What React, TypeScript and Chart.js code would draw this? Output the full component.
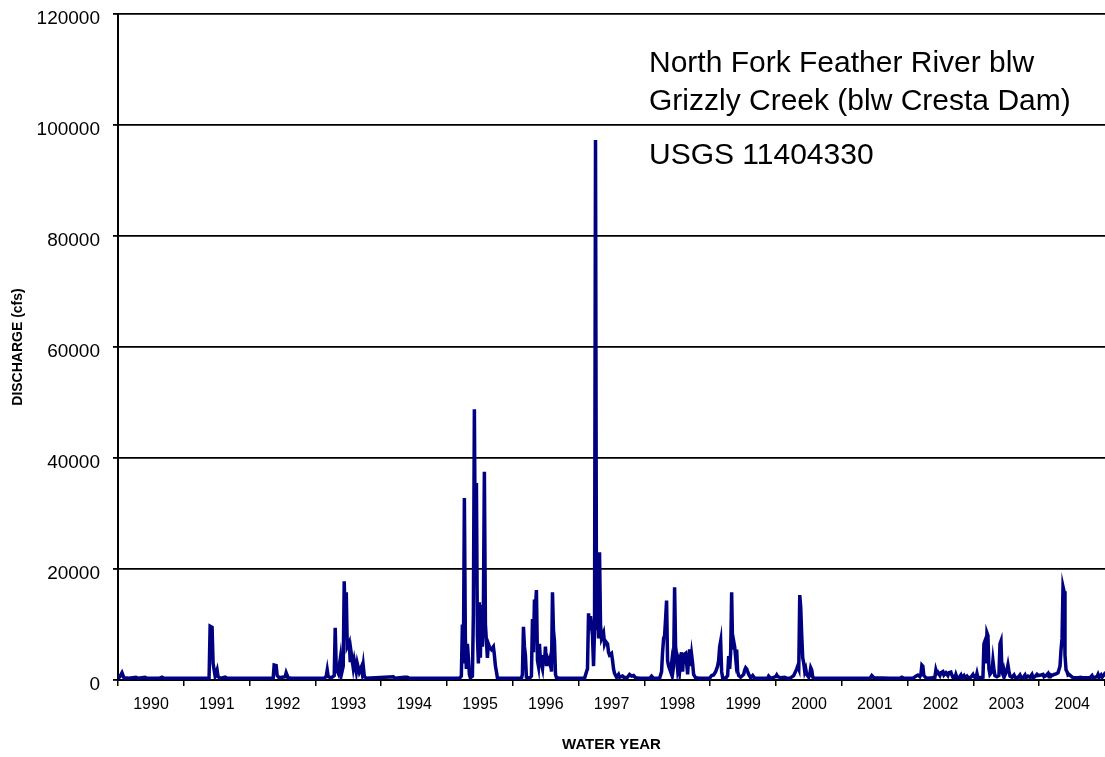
import React, { useEffect, useRef } from "react";
import { Chart, registerables } from "chart.js";

Chart.register(...registerables);

// Water-year decimal dates (segment [Y, Y+1) is water year Y)
const dates: number[] = [
  1990.000, 1990.030, 1990.061, 1990.091, 1990.167, 1990.274, 1990.304, 1990.411, 1990.441, 1990.624, 1990.669, 1990.700,
  1991.384, 1991.400, 1991.430, 1991.445, 1991.476, 1991.506, 1991.521, 1991.552, 1991.628, 1991.658,
  1992.358, 1992.373, 1992.404, 1992.419, 1992.449, 1992.541, 1992.556, 1992.586, 1992.632,
  1993.134, 1993.165, 1993.180, 1993.195, 1993.241, 1993.286, 1993.301, 1993.317, 1993.347, 1993.378, 1993.393,
  1993.423, 1993.438, 1993.454, 1993.469, 1993.484, 1993.514, 1993.530, 1993.545, 1993.575, 1993.591, 1993.621,
  1993.636, 1993.667, 1993.697, 1993.712, 1993.727, 1993.743, 1993.773,
  1994.184, 1994.214, 1994.351, 1994.397, 1994.427,
  1995.188, 1995.218, 1995.234, 1995.249, 1995.264, 1995.279, 1995.294, 1995.310, 1995.325, 1995.340, 1995.355,
  1995.386, 1995.401, 1995.416, 1995.431, 1995.447, 1995.462, 1995.477, 1995.492, 1995.507, 1995.523, 1995.538,
  1995.553, 1995.568, 1995.584, 1995.599, 1995.614, 1995.629, 1995.644, 1995.675, 1995.705, 1995.720, 1995.736,
  1995.751, 1995.766, 1995.797,
  1996.131, 1996.146, 1996.162, 1996.177, 1996.192, 1996.207, 1996.253, 1996.283, 1996.299, 1996.314, 1996.329,
  1996.344, 1996.359, 1996.375, 1996.390, 1996.405, 1996.420, 1996.451, 1996.466, 1996.481, 1996.496, 1996.512,
  1996.527, 1996.557, 1996.572, 1996.588, 1996.603, 1996.618, 1996.633, 1996.649, 1996.664, 1996.709,
  1997.090, 1997.120, 1997.135, 1997.151, 1997.166, 1997.181, 1997.211, 1997.227, 1997.242, 1997.257, 1997.272,
  1997.288, 1997.303, 1997.318, 1997.333, 1997.348, 1997.379, 1997.394, 1997.409, 1997.440, 1997.455, 1997.470,
  1997.500, 1997.516, 1997.531, 1997.546, 1997.577, 1997.607, 1997.622, 1997.668, 1997.698, 1997.744, 1997.774,
  1997.805, 1997.835, 1997.866, 1997.926,
  1998.079, 1998.109, 1998.139, 1998.231, 1998.261, 1998.276, 1998.292, 1998.307, 1998.322, 1998.337, 1998.352,
  1998.368, 1998.398, 1998.413, 1998.429, 1998.444, 1998.459, 1998.474, 1998.489, 1998.505, 1998.520, 1998.535,
  1998.550, 1998.565, 1998.581, 1998.596, 1998.626, 1998.642, 1998.657, 1998.672, 1998.687, 1998.702, 1998.718,
  1998.733, 1998.748, 1998.778, 1998.839, 1998.991,
  1999.022, 1999.052, 1999.083, 1999.113, 1999.128, 1999.144, 1999.159, 1999.174, 1999.189, 1999.235, 1999.265,
  1999.281, 1999.296, 1999.311, 1999.326, 1999.341, 1999.357, 1999.372, 1999.387, 1999.402, 1999.417, 1999.433,
  1999.463, 1999.509, 1999.524, 1999.539, 1999.554, 1999.585, 1999.615, 1999.646, 1999.676, 1999.752, 1999.874,
  1999.889, 1999.920, 1999.996,
  2000.011, 2000.026, 2000.072, 2000.133, 2000.163, 2000.209, 2000.269, 2000.300, 2000.315, 2000.330, 2000.346,
  2000.361, 2000.376, 2000.391, 2000.406, 2000.422, 2000.437, 2000.452, 2000.467, 2000.498, 2000.513, 2000.528,
  2000.543, 2000.559, 2000.589,
  2001.274, 2001.426, 2001.441, 2001.456, 2001.487, 2001.730, 2001.882, 2001.913, 2001.943,
  2002.080, 2002.126, 2002.156, 2002.186, 2002.202, 2002.217, 2002.232, 2002.247, 2002.278, 2002.308, 2002.369,
  2002.415, 2002.430, 2002.445, 2002.460, 2002.491, 2002.506, 2002.536, 2002.552, 2002.582, 2002.612, 2002.628,
  2002.658, 2002.673, 2002.688, 2002.719, 2002.734, 2002.749, 2002.780, 2002.810, 2002.825, 2002.856, 2002.871,
  2002.901, 2002.917, 2002.962, 2002.993,
  2003.008, 2003.038, 2003.054, 2003.069, 2003.145, 2003.160, 2003.175, 2003.191, 2003.206, 2003.221, 2003.236,
  2003.251, 2003.282, 2003.297, 2003.312, 2003.327, 2003.358, 2003.388, 2003.404, 2003.419, 2003.434, 2003.449,
  2003.464, 2003.480, 2003.510, 2003.525, 2003.540, 2003.556, 2003.586, 2003.617, 2003.632, 2003.677, 2003.708,
  2003.723, 2003.753, 2003.784, 2003.799, 2003.830, 2003.860, 2003.890, 2003.906, 2003.936, 2003.966, 2003.982,
  2004.027, 2004.058, 2004.073, 2004.103, 2004.134, 2004.149, 2004.164, 2004.195, 2004.225, 2004.256, 2004.286,
  2004.316, 2004.332, 2004.347, 2004.362, 2004.377, 2004.392, 2004.408, 2004.423, 2004.438, 2004.453, 2004.484,
  2004.514, 2004.590, 2004.636, 2004.651, 2004.773, 2004.803, 2004.819, 2004.879, 2004.894, 2004.910, 2004.940,
  2004.955, 2004.986, 2005.000,
];

// Daily discharge (cfs)
const discharge: number[] = [
  300, 600, 1300, 400, 300, 500, 300, 500, 300, 300, 500, 300,
  300, 9700, 9500, 3000, 700, 1800, 600, 300, 500, 300,
  300, 2700, 2600, 800, 400, 600, 1300, 400, 300,
  300, 700, 1800, 600, 400, 800, 9400, 2000, 1200, 3800, 900,
  2500, 17800, 10000, 15800, 6000, 6800, 3200, 4800, 2200, 3500, 1500,
  3000, 1400, 2300, 1200, 2600, 700, 300,
  600, 300, 500, 500, 300,
  300, 700, 10000, 3000, 32800, 7500, 2000, 6500, 4000, 1000, 400,
  700, 12000, 48800, 20000, 35500, 8000, 3000, 14000, 4000, 13500, 6000,
  13000, 37500, 10000, 7000, 4000, 6500, 6000, 5500, 6000, 4500, 2500,
  1500, 400, 300,
  300, 1000, 9600, 6000, 4500, 500, 300, 700, 11000, 5000, 14500,
  13000, 16200, 3500, 2500, 6500, 3500, 2000, 4500, 3000, 6000, 2500,
  4000, 3000, 4000, 1500, 15800, 9000, 7000, 1000, 400, 300,
  300, 1500, 2000, 12000, 9000, 11500, 8000, 2500, 9000, 97300, 9000,
  14000, 7500, 23000, 10000, 7500, 8500, 6500, 7000, 6500, 5000, 4500,
  4800, 3500, 2000, 1200, 500, 1000, 500, 700, 400, 500, 1000,
  700, 800, 400, 300,
  300, 700, 300, 300, 1500, 5000, 7500, 8000, 11000, 14300, 3500,
  2500, 1500, 3000, 1200, 2500, 16700, 6000, 4500, 2000, 3000, 1500,
  3500, 5000, 1500, 4500, 4800, 3000, 1000, 4000, 5500, 2500, 4500,
  3000, 1000, 400, 300, 300,
  800, 900, 1500, 2500, 3500, 6000, 7000, 1500, 400, 300, 800,
  4300, 2000, 5000, 15800, 5500, 7000, 6000, 4000, 5500, 1500, 800,
  500, 1000, 1800, 2200, 2000, 1000, 400, 800, 300, 300, 300,
  700, 300, 600,
  900, 600, 400, 500, 300, 300, 800, 1600, 2000, 2500, 2000,
  15300, 13000, 8000, 4000, 3000, 1500, 2000, 1000, 500, 1000, 2200,
  1800, 500, 300,
  300, 300, 500, 800, 400, 300, 300, 500, 300,
  300, 700, 900, 600, 1000, 2700, 2500, 800, 400, 300, 400,
  500, 1800, 1200, 1400, 800, 1300, 1500, 900, 1300, 800, 1300,
  1400, 900, 500, 400, 1000, 500, 400, 900, 400, 800, 400,
  700, 400, 500, 1000,
  600, 400, 1200, 400, 500, 6500, 7000, 3000, 8500, 8000, 2000,
  1000, 1500, 3500, 2000, 800, 600, 800, 6500, 7000, 1500, 1000,
  1800, 900, 1800, 2700, 1600, 700, 500, 900, 500, 400, 900,
  500, 400, 900, 400, 700, 500, 1000, 400, 600, 1000, 800,
  900, 1000, 600, 800, 1200, 600, 1000, 800, 1000, 1100, 1300,
  2500, 5500, 7500, 16800, 16000, 4500, 1800, 1500, 900, 1000, 700,
  400, 400, 500, 400, 400, 800, 400, 600, 1000, 500, 900,
  500, 1000, 600,
];

const yearTicks: number[] = [1990, 1991, 1992, 1993, 1994, 1995, 1996, 1997, 1998, 1999, 2000, 2001, 2002, 2003, 2004, 2005];
const yearLabels: string[] = ["1990", "1991", "1992", "1993", "1994", "1995", "1996", "1997", "1998", "1999", "2000", "2001", "2002", "2003", "2004", ""];
const titleLines: string[] = ["North Fork Feather River blw", "Grizzly Creek (blw Cresta Dam)", "", "USGS 11404330"];

const FONT = "'Liberation Sans', Arial, Helvetica, sans-serif";

const annotationPlugin = {
  id: "stationLabel",
  afterDraw(chart: any) {
    const ctx = chart.ctx;
    ctx.save();
    ctx.fillStyle = "#000";
    ctx.font = `30px ${FONT}`;
    ctx.textAlign = "left";
    ctx.textBaseline = "alphabetic";
    const x = 649;
    ctx.fillText(titleLines[0], x, 72);
    ctx.fillText(titleLines[1], x, 110);
    ctx.fillText(titleLines[3], x, 164);
    ctx.restore();
  },
};

export default function App() {
  const ref = useRef<HTMLCanvasElement | null>(null);

  useEffect(() => {
    if (!ref.current) return;
    const points = dates.map((d, i) => ({ x: d, y: discharge[i] }));
    const chart = new Chart(ref.current, {
      type: "line",
      data: {
        datasets: [
          {
            data: points,
            borderColor: "#000080",
            backgroundColor: "#000080",
            borderWidth: 3.5,
            pointRadius: 0,
            tension: 0,
            borderJoinStyle: "miter",
          },
        ],
      },
      options: {
        responsive: false,
        animation: false,
        layout: { padding: { top: 14, right: 0, bottom: 0, left: 0 } },
        plugins: {
          legend: { display: false },
          tooltip: { enabled: false },
        },
        scales: {
          x: {
            type: "linear",
            min: 1990,
            max: 2005,
            afterBuildTicks: (scale: any) => {
              scale.ticks = yearTicks.map((v) => ({ value: v }));
            },
            afterFit: (scale: any) => {
              scale.height = 77;
              scale.paddingLeft = 0;
              scale.paddingRight = 0;
            },
            grid: {
              display: true,
              drawOnChartArea: false,
              drawTicks: true,
              tickLength: 6,
              color: "#000",
              lineWidth: 1.5,
            },
            border: { display: true, color: "#000", width: 2 },
            ticks: {
              autoSkip: false,
              maxRotation: 0,
              padding: 9,
              labelOffset: 33,
              color: "#000",
              font: { family: FONT, size: 16 },
              callback: (value: any) => {
                const i = yearTicks.indexOf(Number(value));
                return i >= 0 ? yearLabels[i] : "";
              },
            },
            title: {
              display: true,
              text: "WATER YEAR",
              color: "#000",
              font: { family: FONT, size: 15, weight: "bold" },
              padding: { top: 0, bottom: 3 },
            },
          },
          y: {
            min: 0,
            max: 120000,
            afterFit: (scale: any) => {
              scale.width = 118;
              scale.paddingTop = 0;
              scale.paddingBottom = 0;
            },
            grid: {
              color: "#000",
              lineWidth: 1.8,
              drawTicks: true,
              tickLength: 5,
            },
            border: { display: true, color: "#000", width: 2 },
            ticks: {
              stepSize: 20000,
              padding: 13,
              labelOffset: 5,
              color: "#000",
              font: { family: FONT, size: 19 },
              callback: (value: any) => String(value),
            },
            title: {
              display: true,
              text: "DISCHARGE (cfs)",
              color: "#000",
              font: { family: FONT, size: 14, weight: "bold" },
              padding: { top: 10, bottom: 0 },
            },
          },
        },
      },
      plugins: [annotationPlugin],
    });
    return () => chart.destroy();
  }, []);

  return (
    <div style={{ position: "absolute", left: 0, top: 0, width: 1105, height: 757, background: "#fff" }}>
      <canvas ref={ref} width={1105} height={757} style={{ display: "block" }} />
    </div>
  );
}
